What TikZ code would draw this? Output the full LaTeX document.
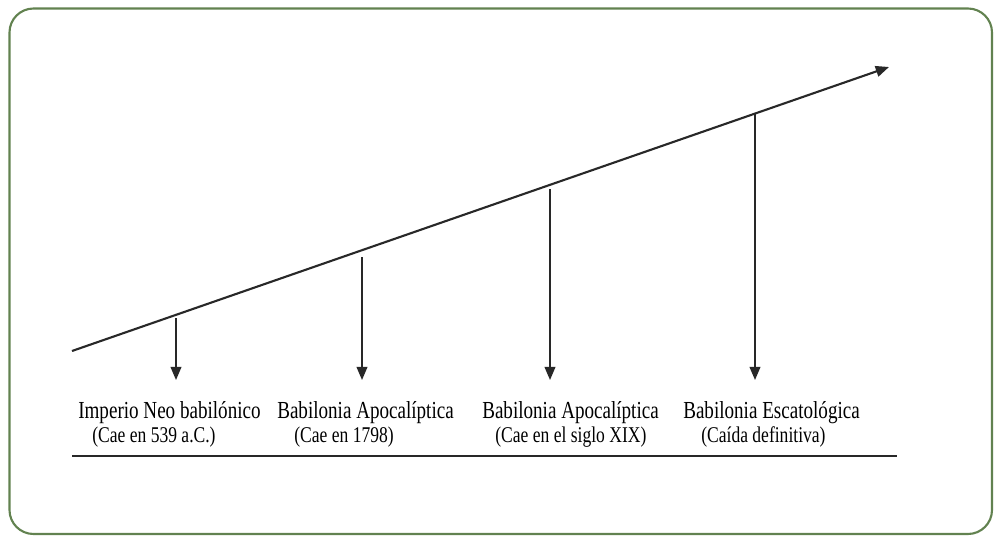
\documentclass[tikz,border=0pt]{standalone}
\usepackage{fontspec}
\newfontfamily\timesnarrow{Liberation Serif}[FakeStretch=0.78]
\usetikzlibrary{arrows.meta}
\definecolor{framegreen}{RGB}{98,130,80}
\definecolor{linegray}{RGB}{40,40,40}

\begin{document}
\begin{tikzpicture}[x=0.025cm,y=-0.025cm,
  timeline/.style={linegray,line width=1.5pt,-{Triangle[length=0.33cm,width=0.27cm]}},
  drop/.style={linegray,line width=1.2pt,-{Triangle[length=0.33cm,width=0.27cm]}},
  era/.style={anchor=base west,inner sep=0pt,font=\timesnarrow\fontsize{17.4}{20}\selectfont},
  fall/.style={anchor=base west,inner sep=0pt,font=\timesnarrow\fontsize{16}{18}\selectfont}]
  \useasboundingbox (0,0) rectangle (1002,546);
  \draw[framegreen,line width=1.5pt,rounded corners=0.6cm] (9.5,8.5) rectangle (992,534);

  % time axis
  \coordinate (start) at (72,351);
  \coordinate (end) at (889,67);
  \draw[timeline] (start) -- (end);

  \coordinate (a1) at (176,318);
  \coordinate (b1) at (176,380);
  \coordinate (a2) at (362,257);
  \coordinate (b2) at (362,380);
  \coordinate (a3) at (550,189);
  \coordinate (b3) at (550,380);
  \coordinate (a4) at (755,114);
  \coordinate (b4) at (755,380);

  \draw[drop] (a1) -- (b1);
  \draw[drop] (a2) -- (b2);
  \draw[drop] (a3) -- (b3);
  \draw[drop] (a4) -- (b4);

  % labels
  \node[era] (t1) at (78,418) {Imperio Neo babilónico};
  \node[fall] (c1) at (92,442) {(Cae en 539 a.C.)};
  \node[era] (t2) at (277,418) {Babilonia Apocalíptica};
  \node[fall] (c2) at (294,442) {(Cae en 1798)};
  \node[era] (t3) at (482,418) {Babilonia Apocalíptica};
  \node[fall] (c3) at (495,442) {(Cae en el siglo XIX)};
  \node[era] (t4) at (683,418) {Babilonia Escatológica};
  \node[fall] (c4) at (701,442) {(Caída definitiva)};

  \coordinate (ruleL) at (72,456);
  \coordinate (ruleR) at (897,456);
  \draw[linegray,line width=1.4pt] (ruleL) -- (ruleR);
\end{tikzpicture}
\end{document}
